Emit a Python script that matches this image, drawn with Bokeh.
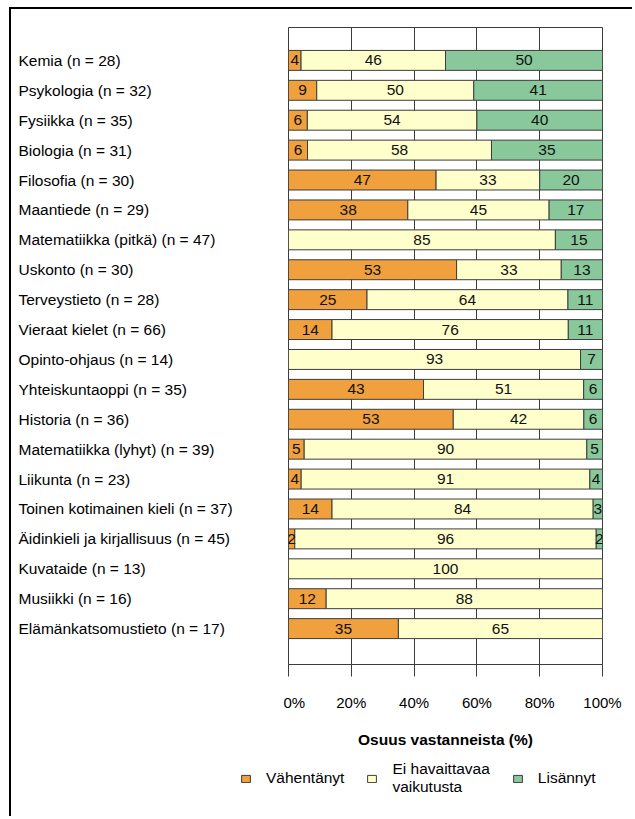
from bokeh.plotting import figure
from bokeh.models import ColumnDataSource, Range1d, FixedTicker, Legend, LegendItem
from bokeh.layouts import row, column
from bokeh.core.properties import value
from bokeh.embed import file_html
from bokeh.resources import INLINE

categories = [
    "Kemia (n = 28)", "Psykologia (n = 32)", "Fysiikka (n = 35)", "Biologia (n = 31)",
    "Filosofia (n = 30)", "Maantiede (n = 29)", "Matematiikka (pitkä) (n = 47)",
    "Uskonto (n = 30)", "Terveystieto (n = 28)", "Vieraat kielet (n = 66)",
    "Opinto-ohjaus (n = 14)", "Yhteiskuntaoppi (n = 35)", "Historia (n = 36)",
    "Matematiikka (lyhyt) (n = 39)", "Liikunta (n = 23)", "Toinen kotimainen kieli (n = 37)",
    "Äidinkieli ja kirjallisuus (n = 45)", "Kuvataide (n = 13)", "Musiikki (n = 16)",
    "Elämänkatsomustieto (n = 17)",
]
vahentanyt = [4, 9, 6, 6, 47, 38, 0, 53, 25, 14, 0, 43, 53, 5, 4, 14, 2, 0, 12, 35]
ei_havaittavaa = [46, 50, 54, 58, 33, 45, 85, 33, 64, 76, 93, 51, 42, 90, 91, 84, 96, 100, 88, 65]
lisannyt = [50, 41, 40, 35, 20, 17, 15, 13, 11, 11, 7, 6, 6, 5, 4, 3, 2, 0, 0, 0]

series_names = ["Vähentänyt", "Ei havaittavaa\nvaikutusta", "Lisännyt"]
series_colors = ["#F0A03C", "#FFFFCC", "#88C89A"]
x_ticks = [0, 20, 40, 60, 80, 100]
x_tick_labels = ["0%", "20%", "40%", "60%", "80%", "100%"]
x_title = "Osuus vastanneista (%)"

FONT = "Liberation Sans"
LINE = "#3c3c3c"
n = len(categories)
ys = [-i for i in range(n)]

H = 741
TOP = 18
BOTTOM = H - TOP - 639
y_range = Range1d(-20.2, 1.1)

# ---- left panel with the category labels ----
LW = 274
pl = figure(width=LW, height=H, x_range=Range1d(0, LW), y_range=y_range,
            output_backend="svg", toolbar_location=None,
            min_border_left=0, min_border_right=0,
            min_border_top=TOP, min_border_bottom=BOTTOM,
            styles={"border-left": "2px solid black", "border-top": "2px solid black",
                    "margin-left": "9px", "margin-top": "7px"})
pl.axis.visible = False
pl.grid.visible = False
pl.outline_line_color = None
pl.background_fill_color = "white"
pl.border_fill_color = "white"
cat_src = ColumnDataSource(dict(x=[7] * n, y=ys, text=categories))
pl.text(x="x", y="y", text="text", source=cat_src, text_align="left",
        text_baseline="middle", text_font=value(FONT), text_font_size="15.5px",
        text_color="black")

# ---- main chart ----
MW = 349
p = figure(width=MW, height=H,
           x_range=Range1d(0, 100), y_range=y_range,
           output_backend="svg", toolbar_location=None,
           min_border_left=5, min_border_right=MW - 5 - 314,
           min_border_top=TOP, min_border_bottom=BOTTOM,
           styles={"border-top": "2px solid black", "margin-top": "7px"})
p.background_fill_color = "white"
p.border_fill_color = "white"
p.outline_line_color = LINE
p.outline_line_width = 1
p.outline_line_alpha = 1

p.yaxis.visible = False
p.ygrid.visible = False
p.xgrid.grid_line_color = LINE
p.xgrid.grid_line_width = 1

ax = p.xaxis[0]
ax.ticker = FixedTicker(ticks=x_ticks)
ax.major_label_overrides = {t: l for t, l in zip(x_ticks, x_tick_labels)}
ax.major_label_text_font = FONT
ax.major_label_text_font_size = "15px"
ax.major_label_text_color = "black"
ax.major_label_standoff = 17
ax.major_tick_in = 0
ax.major_tick_out = 12
ax.minor_tick_out = 0
ax.minor_tick_in = 0
ax.major_tick_line_color = LINE
ax.axis_line_color = LINE
ax.axis_label = x_title
ax.axis_label_text_font = FONT
ax.axis_label_text_font_size = "15.5px"
ax.axis_label_text_font_style = "bold"
ax.axis_label_text_color = "black"
ax.axis_label_standoff = 17

series = [vahentanyt, ei_havaittavaa, lisannyt]
totals = [sum(r) for r in zip(*series)]
cum = [0.0] * n
lab_x, lab_y, lab_t = [], [], []
for vals, color in zip(series, series_colors):
    left, right, yy = [], [], []
    for i in range(n):
        w = vals[i] / totals[i] * 100.0
        if vals[i] > 0:
            left.append(cum[i])
            right.append(cum[i] + w)
            yy.append(ys[i])
            lab_x.append(cum[i] + w / 2)
            lab_y.append(ys[i])
            lab_t.append(str(vals[i]))
        cum[i] += w
    src = ColumnDataSource(dict(y=yy, left=left, right=right))
    p.hbar(y="y", left="left", right="right", height=0.667, source=src,
           fill_color=color, line_color=LINE, line_width=1)

lab_src = ColumnDataSource(dict(x=lab_x, y=lab_y, text=lab_t))
p.text(x="x", y="y", text="text", source=lab_src, text_align="center",
       text_baseline="middle", text_font=value(FONT), text_font_size="15.5px",
       text_color="#111111")

# ---- legend strip ----
GW = LW + MW
GH = 68
pg = figure(width=GW, height=GH, x_range=Range1d(0, GW), y_range=Range1d(0, GH),
            output_backend="svg", toolbar_location=None,
            min_border_left=0, min_border_right=0, min_border_top=0, min_border_bottom=0,
            styles={"border-left": "2px solid black", "margin-left": "9px"})
pg.axis.visible = False
pg.grid.visible = False
pg.outline_line_color = None
pg.background_fill_color = "white"
pg.border_fill_color = "white"
leg_renderers = []
for color in series_colors:
    # legend-only renderer: its single bar lies outside the visible range
    esrc = ColumnDataSource(dict(y=[-1000], left=[0], right=[1]))
    leg_renderers.append(pg.hbar(y="y", left="left", right="right", height=1, source=esrc,
                                 fill_color=color, line_color=LINE, line_width=1))
legend = Legend(items=[LegendItem(label=nm, renderers=[r]) for nm, r in zip(series_names, leg_renderers)],
                orientation="horizontal", location=(229, 20),
                glyph_width=11, glyph_height=9, label_standoff=15, spacing=22,
                padding=0, margin=0, border_line_alpha=0, background_fill_alpha=0,
                label_text_font=FONT, label_text_font_size="15.5px",
                label_text_color="black", label_text_line_height=1.1)
pg.add_layout(legend)

layout = column(row(pl, p), pg)
open("out.html", "w").write(file_html(layout, INLINE))
